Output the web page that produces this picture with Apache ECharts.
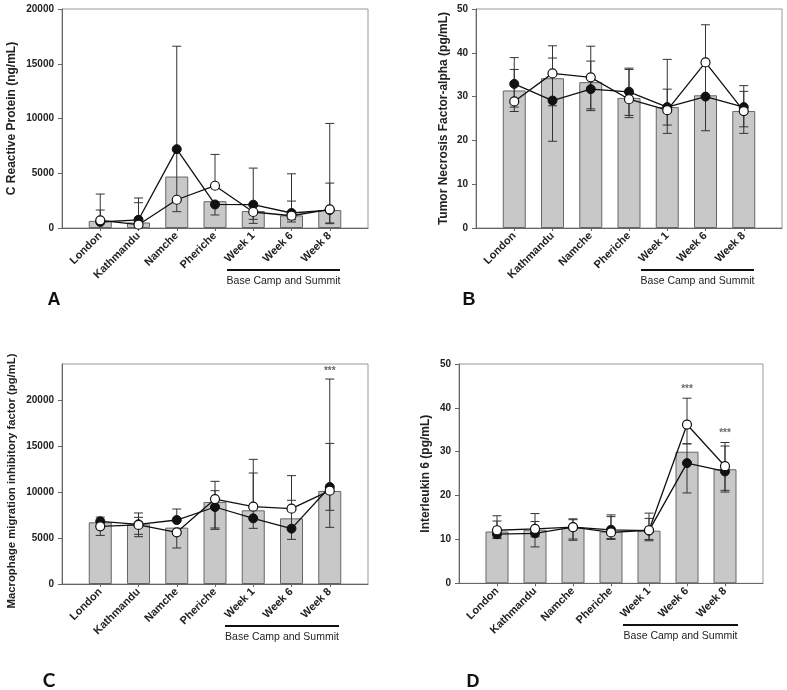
<!DOCTYPE html>
<html><head><meta charset="utf-8">
<script src="https://cdn.jsdelivr.net/npm/echarts@6/dist/echarts.min.js"></script>
<style>html,body{margin:0;padding:0;background:#fff}#c{width:787px;height:690px}</style>
</head><body><div id="c"></div>
<script>
const categories = ['London', 'Kathmandu', 'Namche', 'Pheriche', 'Week 1', 'Week 6', 'Week 8'];

// Panel A: C Reactive Protein (ng/mL)
const crpBar   = [650, 500, 4700, 2450, 1550, 1150, 1640];
const crpBlack = [550, 750, 7200, 2150, 2130, 1370, 1640];
const crpWhite = [700, 300, 2580, 3860, 1460, 1120, 1700];
const crpBlackErr = [[550, 1640], [750, 2740], [1490, 16600], [1190, 2150], [790, 5470], [550, 4950], [460, 4100]];
const crpWhiteErr = [[700, 3100], [300, 2310], null, [3860, 6720], [425, 1460], [760, 2460], [395, 9550]];

// Panel B: Tumor Necrosis Factor-alpha (pg/mL)
const tnfBar   = [31.4, 34.2, 33.3, 29.7, 27.6, 30.3, 26.7];
const tnfBlack = [32.9, 29.1, 31.7, 31.1, 27.6, 30.0, 27.6];
const tnfWhite = [28.9, 35.3, 34.4, 29.4, 26.9, 37.8, 26.7];
const tnfBlackErr = [[27.6, 36.2], [19.8, 38.8], [26.8, 38.1], [25.2, 36.5], [23.5, 31.7], [22.2, 30.0], [23.1, 31.2]];
const tnfWhiteErr = [[26.6, 38.9], [27.9, 41.6], [27.2, 41.5], [25.7, 36.2], [21.6, 38.5], [30.0, 46.4], [21.6, 32.5]];

// Panel C: Macrophage migration inhibitory factor (pg/mL)
const mifBar   = [6730, 6510, 6150, 8950, 8040, 7160, 10150];
const mifBlack = [6840, 6510, 6980, 8400, 7160, 6040, 10580];
const mifWhite = [6290, 6440, 5640, 9270, 8440, 8220, 10180];
const mifBlackErr = [[6840, 7300], [5420, 7750], [6980, 8180], [5960, 10180], [6070, 12110], [4870, 9130], [8040, 15340]];
const mifWhiteErr = [[5300, 6290], [5160, 7270], [3930, 5640], [6110, 11200], [8440, 13600], [8220, 11820], [6180, 22360]];
const mifSig = [['Week 8', 23200]];

// Panel D: Interleukin 6 (pg/mL)
const il6Bar   = [11.8, 12.2, 12.7, 11.8, 12.0, 30.0, 26.0];
const il6Black = [11.2, 11.4, 12.8, 12.2, 12.0, 27.4, 25.5];
const il6White = [12.1, 12.4, 12.8, 11.6, 12.1, 36.2, 26.7];
const il6BlackErr = [[10.4, 14.2], [8.3, 14.1], [10.1, 14.7], [10.2, 15.6], [10.0, 14.8], [20.6, 31.8], [20.8, 31.3]];
const il6WhiteErr = [[10.2, 15.4], [10.6, 15.9], [9.8, 14.5], [10.0, 15.2], [9.7, 16.0], [31.8, 42.2], [21.2, 32.1]];
const il6Sig = [['Week 6', 44.2], ['Week 8', 34.2]];

const yTitles = ['C Reactive Protein (ng/mL)', 'Tumor Necrosis Factor-alpha (pg/mL)',
  'Macrophage migration inhibitory factor (pg/mL)', 'Interleukin 6 (pg/mL)'];
const yMax = [20000, 50, 24000, 50];
const yInterval = [5000, 10, 5000, 10];
const panelLetters = ['A', 'B', 'C', 'D'];
const groupLabel = 'Base Camp and Summit';

const FF = '"Liberation Sans", Arial, sans-serif';
const panels = [
  {bar: crpBar, black: crpBlack, white: crpWhite, bErr: crpBlackErr, wErr: crpWhiteErr, sig: []},
  {bar: tnfBar, black: tnfBlack, white: tnfWhite, bErr: tnfBlackErr, wErr: tnfWhiteErr, sig: []},
  {bar: mifBar, black: mifBlack, white: mifWhite, bErr: mifBlackErr, wErr: mifWhiteErr, sig: mifSig},
  {bar: il6Bar, black: il6Black, white: il6White, bErr: il6BlackErr, wErr: il6WhiteErr, sig: il6Sig}
];

const grids = [
  {left: 62, width: 306, top: 9, height: 219},
  {left: 476, width: 306, top: 9, height: 219},
  {left: 62, width: 306, top: 364, height: 220},
  {left: 459, width: 304, top: 364, height: 219.3}
];
const nameGaps = [44, 26, 45, 27];
const nameSizes = [12, 12, 11.3, 12];
const namePads = [0, 0, [0, 14, 0, 0], 0];

const axisData = [''].concat(categories, ['']);

const xAxes = grids.map((g, i) => ({
  type: 'category', gridIndex: i, data: axisData, boundaryGap: false,
  axisLine: {lineStyle: {color: '#666', width: 1}},
  axisTick: {length: 3, interval: (idx, v) => v !== '', lineStyle: {color: '#666'}},
  axisLabel: {rotate: 45, interval: 0, margin: 6, fontFamily: FF, fontWeight: 'bold', fontSize: 11, color: '#222'},
  splitLine: {show: false}
}));
const yAxes = grids.map((g, i) => ({
  type: 'value', gridIndex: i, min: 0, max: yMax[i], interval: yInterval[i],
  name: yTitles[i], nameLocation: 'middle', nameGap: nameGaps[i],
  nameTextStyle: {fontFamily: FF, fontWeight: 'bold', fontSize: nameSizes[i], color: '#222', padding: namePads[i]},
  axisLine: {show: true, lineStyle: {color: '#666', width: 1}},
  axisTick: {show: true, length: 4, lineStyle: {color: '#666'}},
  axisLabel: {margin: 8, fontFamily: FF, fontWeight: 'bold', fontSize: 10, color: '#222', showMaxLabel: i !== 2,
    formatter: v => String(v)},
  splitLine: {show: false}
}));

function errRender(params, api) {
  const x = api.value(0);
  const lo = api.coord([x, api.value(1)]);
  const hi = api.coord([x, api.value(2)]);
  const w = 4.5;
  const st = {stroke: '#333', lineWidth: 1};
  return {type: 'group', children: [
    {type: 'line', shape: {x1: lo[0], y1: lo[1], x2: hi[0], y2: hi[1]}, style: st},
    {type: 'line', shape: {x1: lo[0] - w, y1: lo[1], x2: lo[0] + w, y2: lo[1]}, style: st},
    {type: 'line', shape: {x1: hi[0] - w, y1: hi[1], x2: hi[0] + w, y2: hi[1]}, style: st}
  ]};
}

const series = [];
panels.forEach((p, i) => {
  series.push({
    type: 'bar', xAxisIndex: i, yAxisIndex: i, barWidth: 23, z: 1,
    itemStyle: {color: '#c8c8c8', borderColor: '#666', borderWidth: 1},
    data: categories.map((c, k) => [c, p.bar[k]]), silent: true
  });
  const errData = [];
  categories.forEach((c, k) => {
    if (p.bErr[k]) errData.push([c, p.bErr[k][0], p.bErr[k][1]]);
    if (p.wErr[k]) errData.push([c, p.wErr[k][0], p.wErr[k][1]]);
  });
  series.push({
    type: 'custom', xAxisIndex: i, yAxisIndex: i, z: 2, renderItem: errRender,
    encode: {x: 0, y: [1, 2]}, data: errData, silent: true
  });
  series.push({
    type: 'line', xAxisIndex: i, yAxisIndex: i, z: 3, symbol: 'circle', symbolSize: 9,
    lineStyle: {color: '#111', width: 1.3}, itemStyle: {color: '#111', borderColor: '#111', borderWidth: 1},
    data: categories.map((c, k) => [c, p.black[k]]), silent: true, animation: false
  });
  series.push({
    type: 'line', xAxisIndex: i, yAxisIndex: i, z: 4, symbol: 'circle', symbolSize: 9,
    lineStyle: {color: '#111', width: 1.3}, itemStyle: {color: '#fff', borderColor: '#111', borderWidth: 1.2},
    data: categories.map((c, k) => [c, p.white[k]]), silent: true, animation: false
  });
  if (p.sig.length) {
    series.push({
      type: 'scatter', xAxisIndex: i, yAxisIndex: i, z: 5, symbolSize: 0,
      label: {show: true, position: 'inside', formatter: '***', fontFamily: FF, fontSize: 10, fontWeight: 'bold', color: '#444'},
      data: p.sig, silent: true
    });
  }
});

const groupLines = [
  {x1: 227, x2: 340, y: 270, ty: 281},
  {x1: 641, x2: 754, y: 270, ty: 281},
  {x1: 225, x2: 339, y: 626, ty: 637},
  {x1: 623, x2: 738, y: 625, ty: 636}
];
const letterPos = [[54, 300], [469, 300], [49, 681], [473, 682]];
const graphic = [];
groupLines.forEach(g => {
  graphic.push({type: 'line', shape: {x1: g.x1, y1: g.y, x2: g.x2, y2: g.y}, style: {stroke: '#111', lineWidth: 2}});
  graphic.push({type: 'text', x: (g.x1 + g.x2) / 2, y: g.ty, style: {text: groupLabel, fontFamily: FF, fontSize: 10.5, fill: '#222', textAlign: 'center', textVerticalAlign: 'middle'}});
});
letterPos.forEach((pos, i) => {
  graphic.push({type: 'text', x: pos[0], y: pos[1], style: {text: panelLetters[i],
    fontFamily: i === 2 ? 'Lato, "Open Sans", sans-serif' : FF, fontWeight: 'bold', fontSize: i === 2 ? 19 : 18,
    fill: '#111', textAlign: 'center', textVerticalAlign: 'middle'}});
});

const chart = echarts.init(document.getElementById('c'), null, {renderer: 'canvas'});
chart.setOption({
  animation: false,
  backgroundColor: '#fff',
  grid: grids.map(g => Object.assign({show: true, borderColor: '#999', borderWidth: 1, containLabel: false}, g)),
  xAxis: xAxes, yAxis: yAxes, series: series, graphic: graphic
});
</script></body></html>
